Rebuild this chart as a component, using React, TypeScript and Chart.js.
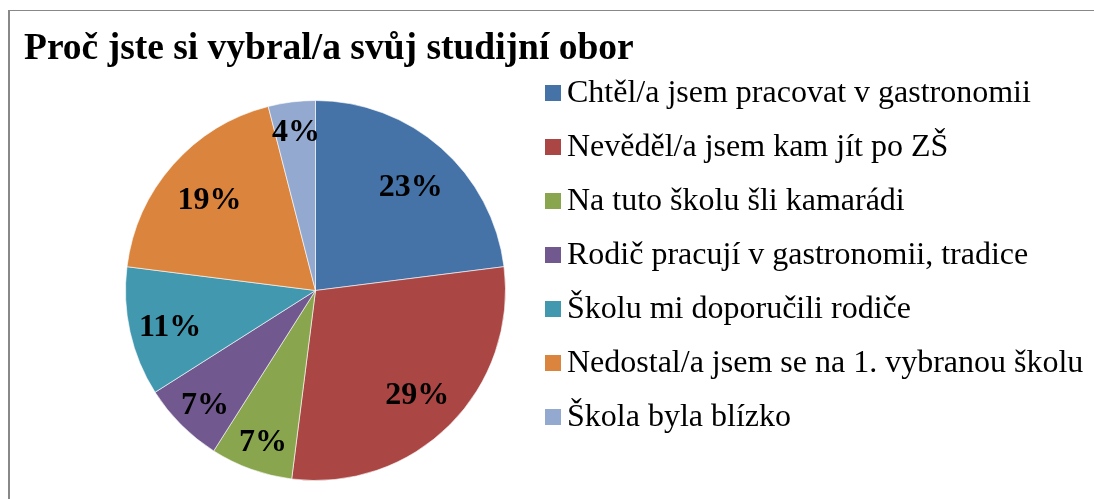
import React, { useEffect, useRef } from "react";
import { Chart, registerables } from "chart.js";

Chart.register(...registerables);

const TITLE = "Proč jste si vybral/a svůj studijní obor";
const CATEGORIES = [
  "Chtěl/a jsem pracovat v gastronomii",
  "Nevěděl/a jsem kam jít po ZŠ",
  "Na tuto školu šli kamarádi",
  "Rodič pracují v gastronomii, tradice",
  "Školu mi doporučili rodiče",
  "Nedostal/a jsem se na 1. vybranou školu",
  "Škola byla blízko",
];
const VALUES = [23, 29, 7, 7, 11, 19, 4];
const COLORS = ["#4572A7", "#AA4643", "#89A54E", "#71588F", "#4198AF", "#DB843D", "#93A9CF"];

const FONT = '"Liberation Serif", "Times New Roman", serif';

const labelPlugin = {
  id: "pctLabels",
  afterDatasetsDraw(chart: any) {
    const ctx = chart.ctx;
    const meta = chart.getDatasetMeta(0);
    const data = chart.data.datasets[0].data as number[];
    const total = data.reduce((a, b) => a + b, 0);
    ctx.save();
    ctx.font = `bold 32px ${FONT}`;
    ctx.fillStyle = "#000";
    ctx.textAlign = "center";
    ctx.textBaseline = "middle";
    meta.data.forEach((arc: any, i: number) => {
      const p = arc.getProps(["x", "y", "startAngle", "endAngle", "outerRadius"], true);
      const mid = (p.startAngle + p.endAngle) / 2;
      const pct = (data[i] / total) * 100;
      const frac = Math.max(0.75, 0.9 - 0.01 * pct);
      const r = p.outerRadius * frac;
      const x = p.x + Math.cos(mid) * r + 1;
      const y = p.y + Math.sin(mid) * r;
      ctx.fillText(Math.round(pct) + "%", x, y + 4);
    });
    ctx.restore();
  },
};

export default function App() {
  const ref = useRef<HTMLCanvasElement | null>(null);
  useEffect(() => {
    if (!ref.current) return;
    const chart = new Chart(ref.current, {
      type: "pie",
      data: {
        labels: CATEGORIES,
        datasets: [
          {
            data: VALUES,
            backgroundColor: COLORS,
            borderColor: "rgba(255,255,255,0.6)",
            borderWidth: 1,
            hoverOffset: 0,
          },
        ],
      },
      options: {
        responsive: false,
        animation: false,
        events: [],
        layout: { padding: { left: 125, right: 588, top: 100, bottom: 18 } },
        plugins: {
          legend: { display: false },
          title: { display: false },
          tooltip: { enabled: false },
        },
      },
      plugins: [labelPlugin],
    });
    return () => chart.destroy();
  }, []);

  return (
    <div
      style={{
        position: "fixed",
        left: 0,
        top: 0,
        width: 1094,
        height: 499,
        background: "#fff",
        overflow: "hidden",
        fontFamily: FONT,
      }}
    >
      <div
        style={{
          position: "absolute",
          left: 8,
          top: 10,
          right: 0,
          bottom: 0,
          borderTop: "1px solid #888",
          borderLeft: "2px solid #888",
        }}
      />
      <canvas
        ref={ref}
        width={1094}
        height={499}
        style={{ position: "absolute", left: 0, top: 0, width: 1094, height: 499 }}
      />
      <div
        style={{
          position: "absolute",
          left: 24,
          top: 28,
          fontSize: 37.5,
          lineHeight: "37.5px",
          fontWeight: "bold",
          color: "#000",
          whiteSpace: "nowrap",
        }}
      >
        {TITLE}
      </div>
      {CATEGORIES.map((c, i) => (
        <React.Fragment key={c}>
          <div
            style={{
              position: "absolute",
              left: 545,
              top: 85 + 54 * i,
              width: 16,
              height: 16,
              background: COLORS[i],
            }}
          />
          <div
            style={{
              position: "absolute",
              left: 567,
              top: 75 + 54 * i,
              fontSize: 32,
              lineHeight: "32px",
              color: "#000",
              whiteSpace: "nowrap",
            }}
          >
            {c}
          </div>
        </React.Fragment>
      ))}
    </div>
  );
}
